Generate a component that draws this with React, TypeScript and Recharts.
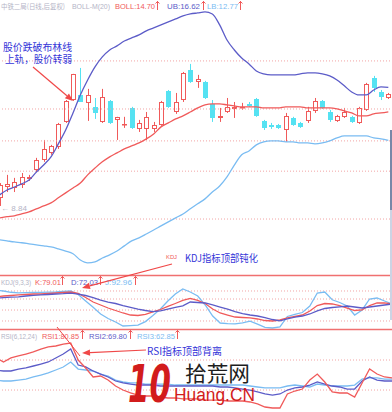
import React from 'react';
import { ComposedChart, LineChart, Bar, Line, XAxis, YAxis, ReferenceLine } from 'recharts';

// daily candles (price)
const opens = [9.59, 10.12, 10.07, 10.22, 10.53, 11.01, 11.58, 11.99, 12.36, 13.99, 15.6, 16.0, 15.38, 15.08, 13.99, 15.53, 14.13, 13.78, 15.0, 13.51, 13.51, 13.51, 13.78, 16.32, 14.7, 15.6, 18.12, 17.07, 17.07, 15.3, 14.27, 14.7, 14.93, 15.0, 15.3, 15.68, 14.06, 13.78, 13.78, 13.44, 14.27, 13.92, 14.06, 14.78, 15.53, 14.7, 14.06, 14.35, 14.35, 13.92, 14.85, 17.42, 16.24, 15.76];
const closes = [10.22, 10.28, 10.38, 10.64, 10.64, 11.58, 12.23, 12.42, 13.85, 15.53, 17.77, 15.45, 16.0, 14.63, 15.84, 13.92, 14.35, 13.85, 13.58, 13.92, 14.35, 13.78, 15.45, 15.08, 15.45, 17.86, 17.07, 17.33, 15.76, 14.27, 14.42, 15.08, 15.08, 15.08, 15.15, 14.42, 13.58, 13.65, 13.58, 14.42, 13.78, 13.65, 14.78, 15.53, 15.0, 14.13, 14.42, 14.7, 13.99, 15.0, 16.9, 16.57, 15.84, 16.08];
const highs = [10.32, 10.75, 10.59, 10.85, 10.75, 11.7, 12.79, 12.48, 13.92, 15.6, 17.77, 18.3, 16.49, 15.76, 16.49, 15.6, 14.35, 14.35, 15.08, 14.13, 14.7, 13.99, 15.53, 16.4, 16.16, 17.94, 18.67, 17.68, 17.16, 15.6, 15.0, 15.76, 15.45, 15.38, 15.45, 15.76, 14.13, 13.92, 13.85, 14.63, 14.35, 13.99, 15.08, 15.76, 15.6, 14.85, 14.49, 15.0, 14.42, 15.08, 16.99, 17.59, 16.4, 16.16];
const lows = [9.21, 9.87, 9.87, 10.07, 10.43, 10.9, 11.47, 11.88, 12.23, 13.92, 15.53, 15.45, 14.06, 14.2, 13.92, 13.85, 12.79, 13.58, 13.51, 13.31, 12.79, 13.31, 13.72, 15.0, 14.56, 15.45, 16.99, 16.57, 15.68, 13.99, 13.99, 14.63, 14.27, 14.85, 15.08, 14.35, 13.44, 13.51, 13.51, 12.67, 13.72, 13.58, 13.92, 14.63, 14.93, 13.99, 13.99, 14.27, 13.92, 13.85, 14.78, 16.24, 15.6, 15.68];

// BOLL(20)
const bollMid = [8.68, 8.73, 8.77, 8.85, 8.94, 9.08, 9.21, 9.35, 9.59, 9.83, 10.07, 10.32, 10.75, 11.12, 11.47, 11.76, 11.99, 12.23, 12.42, 12.6, 12.86, 13.18, 13.65, 13.92, 14.2, 14.42, 14.7, 15.0, 15.23, 15.3, 15.3, 15.23, 15.15, 15.08, 15.08, 15.08, 15.0, 15.0, 15.0, 15.08, 15.08, 15.08, 15.0, 15.0, 15.0, 15.0, 14.93, 14.78, 14.63, 14.42, 14.42, 14.56, 14.63, 14.7];
const bollUp = [9.73, 9.97, 10.12, 10.28, 10.48, 10.9, 11.29, 11.76, 12.54, 13.44, 14.63, 16.0, 17.24, 18.4, 19.33, 20.01, 20.42, 20.93, 21.25, 21.57, 22.0, 22.33, 22.67, 23.01, 23.35, 23.7, 23.94, 24.06, 24.18, 23.94, 22.67, 21.03, 20.01, 19.23, 18.67, 18.03, 17.77, 17.68, 17.68, 17.68, 17.68, 17.77, 17.86, 17.86, 17.77, 17.59, 17.24, 16.74, 16.24, 16.0, 16.0, 16.4, 16.65, 16.62];
const bollLow = [7.78, 7.74, 7.7, 7.67, 7.63, 7.59, 7.55, 7.51, 7.44, 7.36, 7.26, 7.04, 6.94, 6.97, 7.11, 7.22, 7.36, 7.55, 7.74, 7.86, 8.01, 8.17, 8.34, 8.51, 8.68, 8.85, 9.08, 9.31, 9.54, 9.87, 10.17, 10.64, 11.29, 11.88, 12.11, 12.48, 12.67, 12.73, 12.73, 12.67, 12.67, 12.6, 12.6, 12.54, 12.6, 12.73, 12.92, 13.05, 13.05, 13.05, 13.05, 12.92, 12.86, 12.77];

// KDJ(9,3,3)
const kVals = [60.4, 62.3, 63.2, 64.2, 65.1, 66.0, 66.0, 67.0, 67.9, 68.9, 69.8, 67.0, 59.4, 50.9, 45.3, 39.6, 34.9, 30.2, 26.4, 25.5, 27.4, 32.1, 36.8, 42.5, 48.1, 53.8, 57.6, 53.8, 48.1, 37.7, 30.2, 26.4, 22.6, 21.7, 20.8, 18.9, 16.0, 15.1, 17.0, 20.8, 23.6, 26.4, 34.0, 44.3, 48.1, 47.2, 44.3, 39.6, 34.9, 35.9, 44.3, 49.1, 49.1, 47.2];
const dVals = [58.5, 59.1, 60.0, 60.8, 62.3, 63.6, 64.5, 65.1, 66.0, 66.6, 67.6, 66.0, 63.2, 59.4, 54.7, 50.9, 48.1, 44.3, 40.9, 37.7, 34.9, 32.8, 34.0, 37.7, 40.8, 43.8, 50.9, 50.0, 49.1, 45.3, 41.5, 37.7, 33.0, 29.2, 26.4, 24.5, 21.3, 17.9, 15.5, 18.9, 22.3, 24.5, 28.3, 34.0, 38.7, 40.6, 41.9, 43.4, 41.5, 39.6, 41.5, 43.4, 45.3, 47.2];
const jVals = [73.6, 71.7, 69.3, 68.1, 68.5, 68.9, 69.1, 69.4, 69.8, 70.8, 71.7, 65.1, 52.8, 40.9, 28.3, 19.8, 13.2, 5.7, 6.4, 7.2, 14.0, 25.3, 37.7, 52.8, 66.0, 75.5, 69.8, 62.3, 45.3, 24.5, 11.3, 10.2, 9.6, 11.7, 14.9, 9.1, 3.2, 1.9, 3.8, 23.6, 27.7, 31.1, 43.4, 67.9, 69.8, 55.1, 50.0, 43.4, 26.4, 35.9, 56.6, 58.5, 52.8, 47.2];

// RSI(6,12,24)
const rsi1 = [65.9, 61.0, 65.9, 68.3, 70.7, 73.2, 76.8, 79.3, 80.5, 82.9, 84.1, 63.4, 53.7, 42.7, 43.9, 39.0, 31.7, 26.8, 23.2, 20.7, 19.5, 19.5, 18.3, 17.1, 17.1, 15.9, 15.9, 15.9, 14.6, 14.6, 14.6, 13.4, 13.4, 13.4, 12.2, 9.8, 6.1, 4.9, 4.9, 22.0, 25.6, 28.0, 39.0, 46.3, 36.6, 24.4, 23.2, 23.2, 18.3, 35.4, 52.4, 46.3, 42.7, 41.5];
const rsi2 = [51.2, 50.0, 50.0, 52.4, 53.7, 56.1, 58.5, 61.0, 65.9, 70.7, 76.8, 57.3, 54.9, 50.0, 46.3, 42.7, 37.8, 35.4, 34.1, 32.9, 32.9, 32.9, 31.7, 31.7, 31.7, 31.7, 31.7, 31.7, 31.7, 31.7, 30.5, 30.5, 29.3, 28.0, 26.8, 24.4, 22.0, 20.7, 22.0, 26.8, 29.3, 30.5, 32.9, 36.6, 34.1, 31.7, 30.5, 28.0, 28.0, 37.8, 42.7, 39.0, 37.8, 37.8];
const rsi3 = [39.0, 37.8, 37.8, 39.0, 40.2, 42.7, 45.1, 47.6, 51.2, 54.9, 61.0, 52.4, 51.2, 50.0, 46.3, 43.9, 39.0, 36.6, 35.4, 35.4, 34.1, 34.1, 34.1, 34.1, 32.9, 32.9, 32.9, 32.9, 32.9, 32.9, 32.9, 32.9, 32.9, 32.9, 31.7, 30.5, 29.3, 29.3, 29.3, 31.7, 32.9, 31.7, 30.5, 34.1, 32.9, 31.7, 31.7, 31.7, 32.9, 40.2, 41.5, 41.5, 40.2, 40.2];

const priceGrid = [18.95, 14.92, 12.73, 10.95, 8.63];
const kdjGrid = [71.7, 56.6, 35.8, 15.1];
const rsiGrid = [63.4, 26.8];

const RED = '#f05a5a';
const CYAN = '#55e2f2';
const PURPLE = '#5c5cc8';
const SKY = '#7abcf2';
const GRID = '#f2a4a4';
const LABEL = '#b4b4c6';
const NOTE = '#3434d8';

const W = 396;
const latin = "'Liberation Sans', Arial, sans-serif";
const cjk = "'Noto Sans CJK SC', sans-serif";

const rows = opens.map((o, i) => ({
  i,
  open: o,
  close: closes[i],
  high: highs[i],
  low: lows[i],
  range: [lows[i], highs[i]],
  mid: bollMid[i],
  ub: bollUp[i],
  lb: bollLow[i],
  k: kVals[i],
  d: dVals[i],
  j: jVals[i],
  r1: rsi1[i],
  r2: rsi2[i],
  r3: rsi3[i],
}));

const Candle = (props: any) => {
  const { x, y, width, height, payload } = props;
  if (x == null || y == null) return null;
  const top = Math.min(y, y + height);
  const h = Math.abs(height);
  const lh = Math.log(payload.high);
  const ll = Math.log(payload.low);
  const py = (v: number) => top + (h * (lh - Math.log(v))) / (lh - ll || 1);
  const up = payload.close >= payload.open;
  const cx = Math.round(x + width / 2) + 0.5;
  const yo = py(payload.open);
  const yc = py(payload.close);
  const bt = Math.round(Math.min(yo, yc));
  const bb = Math.max(bt + 1, Math.round(Math.max(yo, yc)));
  if (up) {
    return (
      <g>
        <line x1={cx} x2={cx} y1={top} y2={top + h} stroke={RED} strokeWidth={1} />
        <rect x={cx - 2} y={bt + 0.5} width={4} height={Math.max(bb - bt - 1, 0.5)} fill="#fff" stroke={RED} strokeWidth={1} />
      </g>
    );
  }
  return (
    <g>
      <line x1={cx} x2={cx} y1={top} y2={top + h} stroke={CYAN} strokeWidth={1} />
      <rect x={cx - 2.5} y={bt} width={5} height={bb - bt} fill={CYAN} />
    </g>
  );
};

const Arrow = ({ x1, y1, x2, y2 }: { x1: number; y1: number; x2: number; y2: number }) => {
  const a = Math.atan2(y2 - y1, x2 - x1);
  const L = 8;
  const hw = 3.2;
  const bx = x2 - L * Math.cos(a);
  const by = y2 - L * Math.sin(a);
  const pts = `${x2},${y2} ${bx - hw * Math.sin(a)},${by + hw * Math.cos(a)} ${bx + hw * Math.sin(a)},${by - hw * Math.cos(a)}`;
  return (
    <g>
      <line x1={x1} y1={y1} x2={bx} y2={by} stroke="#f04848" strokeWidth={1.2} />
      <polygon points={pts} fill="#f04848" />
    </g>
  );
};

const UpMark = ({ x, y }: { x: number; y: number }) => (
  <g stroke={RED} strokeWidth={1} fill="none">
    <line x1={x + 0.5} x2={x + 0.5} y1={y} y2={y + 9} />
    <polyline points={`${x - 1.5},${y + 2.5} ${x + 0.5},${y + 0.5} ${x + 2.5},${y + 2.5}`} />
  </g>
);

const Txt = ({ x, y, w, color, children, size = 8, font = latin }: any) => (
  <text x={x} y={y} fill={color} fontSize={size} fontFamily={font} textLength={w} lengthAdjust="spacingAndGlyphs">
    {children}
  </text>
);

const lineProps = { dot: false, activeDot: false, isAnimationActive: false, strokeWidth: 1.3 };

export default function App() {
  return (
    <div style={{ position: 'absolute', left: 0, top: 0, width: 392, height: 412, overflow: 'hidden', background: '#fff' }}>
      <div style={{ position: 'absolute', left: -4, top: 0 }}>
        <ComposedChart width={W} height={276} data={rows} margin={{ top: 0, right: 0, bottom: 0, left: 0 }}>
          <XAxis dataKey="i" hide />
          <YAxis hide type="number" scale="log" domain={[6.5, 25.66]} allowDataOverflow />
          {priceGrid.map((v) => (
            <ReferenceLine key={v} y={v} stroke={GRID} strokeDasharray="1 2" />
          ))}
          <Bar dataKey="range" barSize={5} shape={<Candle />} activeBar={false} isAnimationActive={false} />
          <Line type="monotone" dataKey="ub" stroke={PURPLE} {...lineProps} />
          <Line type="monotone" dataKey="mid" stroke={RED} {...lineProps} />
          <Line type="monotone" dataKey="lb" stroke={SKY} {...lineProps} />
        </ComposedChart>
      </div>
      <div style={{ position: 'absolute', left: -4, top: 276 }}>
        <LineChart width={W} height={53} data={rows} margin={{ top: 0, right: 0, bottom: 0, left: 0 }}>
          <XAxis dataKey="i" hide />
          <YAxis hide type="number" domain={[0, 100]} allowDataOverflow />
          {kdjGrid.map((v) => (
            <ReferenceLine key={v} y={v} stroke={GRID} strokeDasharray="1 2" />
          ))}
          <Line type="linear" dataKey="j" stroke={SKY} {...lineProps} />
          <Line type="linear" dataKey="k" stroke={RED} {...lineProps} />
          <Line type="linear" dataKey="d" stroke={PURPLE} {...lineProps} />
        </LineChart>
      </div>
      <div style={{ position: 'absolute', left: -4, top: 330 }}>
        <LineChart width={W} height={82} data={rows} margin={{ top: 0, right: 0, bottom: 0, left: 0 }}>
          <XAxis dataKey="i" hide />
          <YAxis hide type="number" domain={[0, 100]} allowDataOverflow />
          {rsiGrid.map((v) => (
            <ReferenceLine key={v} y={v} stroke={GRID} strokeDasharray="1 2" />
          ))}
          <Line type="linear" dataKey="r3" stroke={SKY} {...lineProps} />
          <Line type="linear" dataKey="r2" stroke={PURPLE} {...lineProps} />
          <Line type="linear" dataKey="r1" stroke={RED} {...lineProps} />
        </LineChart>
      </div>

      <svg width={392} height={412} style={{ position: 'absolute', left: 0, top: 0, pointerEvents: 'none' }}>
        {/* panel separators */}
        <line x1={0} x2={392} y1={275.5} y2={275.5} stroke="#f07070" strokeWidth={1.5} />
        <line x1={0} x2={392} y1={329.5} y2={329.5} stroke="#f07070" strokeWidth={1.5} />
        <rect x={390} y={130} width={2} height={80} fill="#7888a8" />
        <rect x={390} y={210} width={2} height={110} fill="#ccd4e4" />

        {/* main header */}
        <Txt x={1} y={9} w={64} size={7} color={LABEL} font={cjk}>中铁二局(日线,后复权)</Txt>
        <Txt x={72} y={9} w={38} color={LABEL}>BOLL-M(20)</Txt>
        <Txt x={115} y={9} w={40} color={RED}>BOLL:14.70</Txt>
        <UpMark x={157} y={1} />
        <Txt x={167} y={9} w={33} color={PURPLE}>UB:16.62</Txt>
        <UpMark x={203} y={1} />
        <Txt x={207} y={9} w={31} color={SKY}>LB:12.77</Txt>
        <UpMark x={240} y={1} />
        <Txt x={1} y={211} w={26} color={LABEL}>← 8.84</Txt>

        {/* KDJ header */}
        <Txt x={1} y={285} w={30} color={LABEL}>KDJ(9,3,3)</Txt>
        <Txt x={35} y={285} w={26} color={RED}>K:79.01</Txt>
        <UpMark x={62} y={276} />
        <Txt x={71} y={285} w={27} color={PURPLE}>D:72.03</Txt>
        <UpMark x={100} y={276} />
        <Txt x={105} y={285} w={27} color={SKY}>J:92.96</Txt>
        <UpMark x={135} y={276} />

        {/* RSI header */}
        <Txt x={1} y={339} w={36} color={LABEL}>RSI(6,12,24)</Txt>
        <Txt x={42} y={339} w={37} color={RED}>RSI1:80.85</Txt>
        <UpMark x={82} y={330} />
        <Txt x={89} y={339} w={38} color={PURPLE}>RSI2:69.80</Txt>
        <UpMark x={130} y={330} />
        <Txt x={137} y={339} w={38} color={SKY}>RSI3:62.85</Txt>
        <UpMark x={177} y={330} />

        {/* notes */}
        <Txt x={3} y={51} w={69} size={10} color={NOTE} font={cjk}>股价跌破布林线</Txt>
        <Txt x={5} y={63} w={67} size={10} color={NOTE} font={cjk}>上轨，股价转弱</Txt>
        <Arrow x1={33} y1={67} x2={73} y2={101} />

        <Txt x={166} y={259} w={11} size={6} color={RED}>KDJ</Txt>
        <Txt x={185} y={262} w={73} size={10} color={NOTE} font={cjk}>KDJ指标顶部钝化</Txt>
        <Arrow x1={172} y1={264} x2={82} y2={288} />

        <line x1={57} y1={327} x2={80} y2={356} stroke="#f04848" strokeWidth={1} />
        <Txt x={147} y={355} w={75} size={10} color={NOTE} font={cjk}>RSI指标顶部背离</Txt>
        <Arrow x1={146} y1={350} x2={82} y2={353} />

        {/* watermark */}
        <text x={128} y={402} fill="#d21c1c" fontSize={52} fontWeight="bold" fontStyle="italic" fontFamily="'DejaVu Sans', sans-serif" textLength={43} lengthAdjust="spacingAndGlyphs">10</text>
        <text x={185} y={381} fill="#1e1e1e" fontSize={21} fontFamily={cjk} textLength={65} lengthAdjust="spacingAndGlyphs">拾荒网</text>
        <text x={174} y={401} fill="#d21c1c" fontSize={18} fontFamily={latin} textLength={81} lengthAdjust="spacingAndGlyphs">Huang.CN</text>
      </svg>
    </div>
  );
}
